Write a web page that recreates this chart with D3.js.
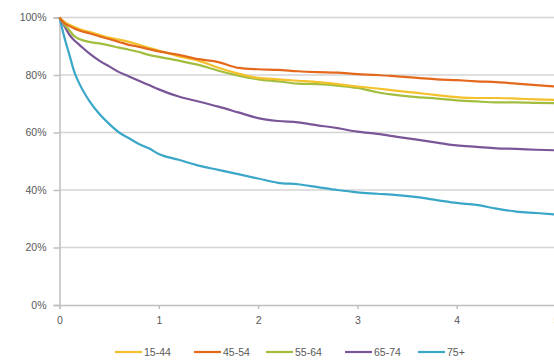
<!DOCTYPE html>
<html>
<head>
<meta charset="utf-8">
<script src="https://cdn.jsdelivr.net/npm/d3@7"></script>
<style>
  html, body { margin: 0; padding: 0; background: #fff; }
  svg { display: block; }
  text { font-family: "Liberation Sans", Arial, sans-serif; fill: #595959; }
</style>
</head>
<body>
<svg id="chart" width="554" height="361"></svg>
<script>
const years = [0, 0.05, 0.1, 0.15, 0.2, 0.3, 0.4, 0.5, 0.6, 0.7, 0.8, 0.9, 1.0, 1.2, 1.4, 1.6, 1.8, 2.0, 2.2, 2.4, 2.6, 2.8, 3.0, 3.2, 3.4, 3.6, 3.8, 4.0, 4.2, 4.4, 4.6, 4.8, 5.0];
const s15_44 = [100, 98.5, 97.5, 96.7, 96, 95, 94, 93, 92.3, 91.5, 90.5, 89.5, 88.5, 86.5, 85, 82.5, 80.5, 79, 78.5, 78, 77.5, 76.8, 76, 75.3, 74.5, 73.8, 73, 72.3, 72, 72, 71.8, 71.5, 71.3];
const s45_54 = [100, 98, 97, 96.2, 95.5, 94.5, 93.5, 92.5, 91.5, 90.5, 89.8, 89, 88.2, 87, 85.5, 84.5, 82.5, 82, 81.8, 81.3, 81, 80.8, 80.3, 80, 79.5, 79, 78.5, 78.2, 77.8, 77.5, 77, 76.5, 76];
const s55_64 = [100, 97.5, 95.5, 93.5, 92.5, 91.5, 91, 90.3, 89.5, 88.8, 88, 87, 86.3, 85, 83.5, 81.5, 79.8, 78.5, 77.8, 77, 76.8, 76.3, 75.5, 74, 73, 72.3, 71.8, 71.2, 70.8, 70.5, 70.5, 70.3, 70.2];
const s65_74 = [100, 97, 94, 92, 90.5, 87.5, 85, 83, 81, 79.5, 78, 76.5, 75, 72.5, 70.8, 69, 67, 65, 64, 63.5, 62.5, 61.5, 60.3, 59.5, 58.5, 57.5, 56.5, 55.5, 55, 54.5, 54.3, 54, 53.8];
const s75p = [100, 93, 87, 81, 77, 71, 66.5, 63, 60, 58, 56, 54.5, 52.5, 50.5, 48.5, 47, 45.5, 44, 42.5, 42, 41, 40, 39.2, 38.7, 38.2, 37.5, 36.5, 35.5, 34.8, 33.5, 32.5, 32, 31.5];
const seriesNames = ["15-44", "45-54", "55-64", "65-74", "75+"];
const seriesColors = ["#F4C12C", "#E4691C", "#A3BE3E", "#7A5699", "#3AA7C8"];
const xTicks = [0, 1, 2, 3, 4, 5];
const yTicks = [0, 20, 40, 60, 80, 100];

const seriesValues = [s15_44, s45_54, s55_64, s65_74, s75p];
const svg = d3.select("#chart");
const x = d3.scaleLinear().domain([0, 5]).range([59.5, 556]);
const y = d3.scaleLinear().domain([0, 100]).range([305, 17.5]);

// gridlines
svg.append("g").selectAll("line").data(yTicks.filter(d => d > 0)).join("line")
  .attr("x1", x(0)).attr("x2", 554)
  .attr("y1", d => y(d)).attr("y2", d => y(d))
  .attr("stroke", "#d4d4d4").attr("stroke-width", 1.5);

// y axis
const yAxis = svg.append("g").attr("transform", `translate(${x(0)},0)`)
  .call(d3.axisLeft(y).tickValues(yTicks).tickFormat(d => d + "%").tickSize(6).tickPadding(7));
yAxis.select(".domain").attr("stroke", "#bfbfbf").attr("stroke-width", 1.5);
yAxis.selectAll(".tick line").attr("stroke", "#bfbfbf").attr("stroke-width", 1.5);
yAxis.selectAll("text").style("font-size", "10.5px").attr("fill", "#595959");

// x axis
const xAxis = svg.append("g").attr("transform", `translate(0,${y(0)})`)
  .call(d3.axisBottom(x).tickValues(xTicks).tickFormat(d3.format("d")).tickSize(4).tickPadding(8));
xAxis.select(".domain").attr("stroke", "#bfbfbf").attr("stroke-width", 1.5);
xAxis.selectAll(".tick line").attr("stroke", "#bfbfbf").attr("stroke-width", 1.5);
xAxis.selectAll("text").style("font-size", "10.5px").attr("fill", "#595959");

// lines
const line = d3.line().x((d, i) => x(years[i])).y(d => y(d)).curve(d3.curveMonotoneX);
const drawOrder = [4, 3, 2, 0, 1];
svg.append("g").selectAll("path").data(drawOrder).join("path")
  .attr("d", i => line(seriesValues[i]))
  .attr("fill", "none")
  .attr("stroke", i => seriesColors[i])
  .attr("stroke-width", 2.2)
  .attr("stroke-linejoin", "round");

// legend
const legendX = [115, 194, 266, 345, 418];
const lg = svg.append("g");
seriesNames.forEach((name, i) => {
  const g = lg.append("g").attr("transform", `translate(${legendX[i]},352)`);
  g.append("line").attr("x1", 0).attr("x2", 27).attr("y1", 0).attr("y2", 0)
    .attr("stroke", seriesColors[i]).attr("stroke-width", 2.2);
  g.append("text").attr("x", 29).attr("y", 0).attr("dy", "0.35em")
    .style("font-size", "10.5px").attr("fill", "#595959").text(name);
});
</script>
</body>
</html>
